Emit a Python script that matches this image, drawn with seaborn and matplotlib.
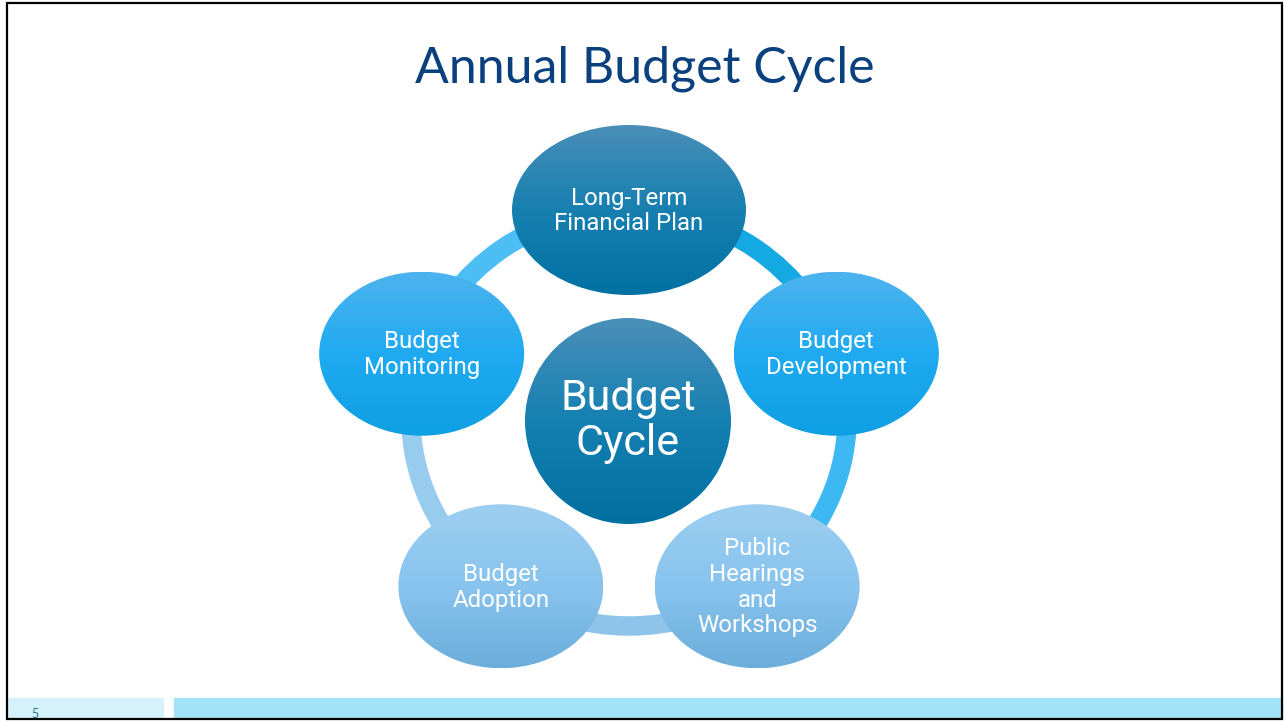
import numpy as np
import matplotlib.pyplot as plt
import seaborn as sns
from matplotlib.patches import Ellipse, Arc, Rectangle

# Diagram content
title = "Annual Budget Cycle"
hub_label = "Budget\nCycle"
stages = ["Long-Term\nFinancial Plan", "Budget\nDevelopment",
          "Public\nHearings\nand\nWorkshops", "Budget\nAdoption",
          "Budget\nMonitoring"]
page_number = "5"

# Colours (top -> bottom gradients for each node, one colour per ring segment)
hub_colors = ["#4A90B9", "#1580B2", "#0070A1"]
stage_colors = [
    ["#4A8FB8", "#1780B1", "#0071A3"],
    ["#4DB3EE", "#1FAAF1", "#0F9FE3"],
    ["#9DCEF1", "#88C4EE", "#6CADDB"],
    ["#9DCEF1", "#88C4EE", "#6CADDB"],
    ["#4DB3EE", "#1FAAF1", "#0F9FE3"],
]
ring_colors = ["#14A9E2", "#3DB8F2", "#8EC4EA", "#98CCEE", "#4CBEF4"]

sns.set_theme(style="white")
plt.rcParams['font.family'] = ['Roboto', 'DejaVu Sans']

W, H = 1284, 721
fig = plt.figure(figsize=(W / 100, H / 100), dpi=100)
ax = fig.add_axes([0, 0, 1, 1])
ax.set_axis_off()

# cycle layout
cx, cy = 629, H - 418
rx, ry = 218, 208
angles = [90 - 72 * i for i in range(len(stages))]
node_sizes = [(234, 170)] + [(205, 164)] * (len(stages) - 1)


def gradient_ellipse(xy, w, h, cols, z=3):
    e = Ellipse(xy, w, h, facecolor='none', edgecolor='none', zorder=z)
    ax.add_patch(e)
    cmap = sns.blend_palette(cols, 64, as_cmap=True)
    grad = np.linspace(0, 1, 256).reshape(-1, 1)
    im = ax.imshow(grad, cmap=cmap, origin='upper', aspect='auto', zorder=z,
                   extent=(xy[0] - w / 2, xy[0] + w / 2, xy[1] - h / 2, xy[1] + h / 2))
    im.set_clip_path(e)


# ring segments
for i, col in enumerate(ring_colors):
    a1 = angles[i]
    a2 = angles[(i + 1) % len(angles)] if i + 1 < len(angles) else angles[0] - 360
    arc = Arc((cx, cy), 2 * rx, 2 * ry, theta1=a2 - 2, theta2=a1 + 2,
              lw=14, color=col, zorder=1, capstyle='butt')
    ax.add_patch(arc)

# stage nodes
for i, label in enumerate(stages):
    a = np.deg2rad(angles[i])
    x, y = cx + rx * np.cos(a), cy + ry * np.sin(a)
    w, h = node_sizes[i]
    gradient_ellipse((x, y), w, h, stage_colors[i])
    ax.text(x, y - 1, label, ha='center', va='center', multialignment='center',
            color='white', fontsize=17.3, linespacing=1.14, zorder=5)

# hub
hub_y = H - 421
gradient_ellipse((cx - 1, hub_y), 206, 206, hub_colors)
ax.text(cx - 1, hub_y, hub_label, ha='center', va='center', multialignment='center',
        color='white', fontsize=31, linespacing=1.1, zorder=5)

# title
ax.text(645, H - 83, title, ha='center', va='baseline', color='#0A407E',
        fontsize=36, family=['Lato', 'DejaVu Sans'])

# footer bars and page number
ax.add_patch(Rectangle((8, 3), 155, 20, color='#D6F2FB', zorder=1))
ax.add_patch(Rectangle((174, 3), 1108, 20, color='#A4E2F8', zorder=1))
ax.text(31, 3, page_number, ha='left', va='baseline', color='#2F6E8E',
        fontsize=9, family=['Lato', 'DejaVu Sans'])

# slide border
ax.add_patch(Rectangle((7, 2), 1275, 716, fill=False, edgecolor='black',
                       lw=1.6, zorder=6))

ax.set_xlim(0, W)
ax.set_ylim(0, H)
fig.savefig('out.png', dpi=100, facecolor='white')
